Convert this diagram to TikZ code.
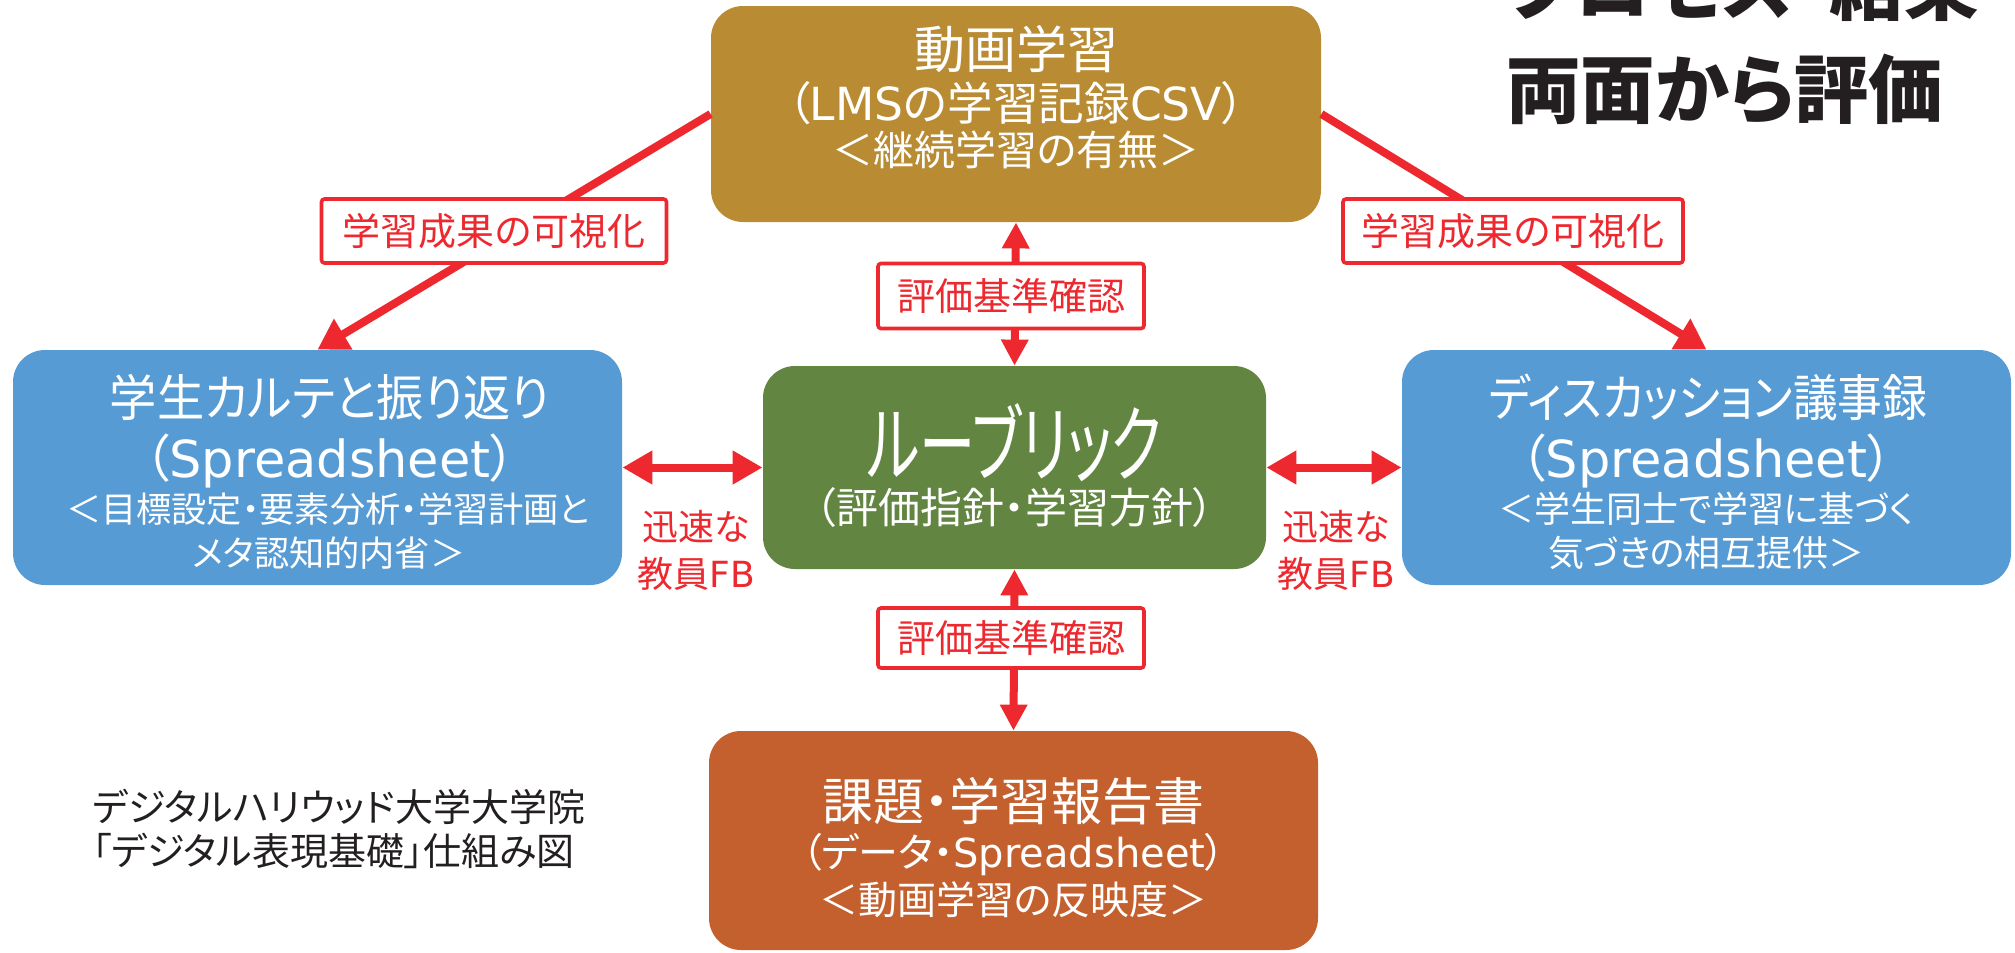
\documentclass[tikz,border=0pt]{standalone}
\usepackage{fontspec}
\setmainfont{Noto Sans CJK JP}[RawFeature={+palt}]
\newfontfamily\lat{DejaVu Sans}
\newfontfamily\rubfont{Noto Sans CJK JP}[RawFeature={+palt},FakeStretch=0.67]
\newfontfamily\condA{Noto Sans CJK JP}[RawFeature={+palt},FakeStretch=0.945]
\newfontfamily\condB{Noto Sans CJK JP}[RawFeature={+palt},FakeStretch=0.895]
\usetikzlibrary{arrows.meta}
\newcommand\fsz[1]{\fontsize{#1}{#1}\selectfont}
\definecolor{gold}{RGB}{185,140,51}
\definecolor{bluebox}{RGB}{86,155,212}
\definecolor{greenbox}{RGB}{98,134,66}
\definecolor{orangebox}{RGB}{195,96,45}
\definecolor{redc}{RGB}{237,40,46}
\definecolor{ink}{RGB}{35,31,32}
\tikzset{
  box/.style={rectangle, rounded corners=16pt, inner sep=0pt, draw=none},
  wt/.style={text=white, inner sep=0pt, anchor=center},
  lab/.style={draw=redc, line width=1.8pt, fill=white, rounded corners=1.5pt, text=redc, inner sep=0pt},
  con/.style={draw=redc, line width=4pt, -{Triangle[length=15pt,width=17pt]}},
  vcon/.style={draw=redc, line width=4pt, {Triangle[length=13pt,width=13pt]}-{Triangle[length=13pt,width=13pt]}},
  hcon/.style={draw=redc, line width=4pt, {Triangle[length=15pt,width=16pt]}-{Triangle[length=15pt,width=16pt]}},
  fbtext/.style={text=redc, align=center, inner sep=0pt, font=\fontsize{18}{23.5}\selectfont},
}
\begin{document}
\begin{tikzpicture}[x=0.5pt,y=-0.5pt]
\useasboundingbox (0,0) rectangle (2015,953);
\clip (0,0) rectangle (2015,953);
\fill[white] (0,0) rectangle (2015,953);

% boxes
\node[box, fill=gold, minimum width=305pt, minimum height=108pt] (video) at (1016,114) {};
\node[box, fill=bluebox, minimum width=304.5pt, minimum height=117.5pt] (karte) at (317.5,467.5) {};
\node[box, fill=greenbox, minimum width=251.5pt, minimum height=101.5pt] (rubric) at (1014.5,467.5) {};
\node[box, fill=bluebox, minimum width=304.5pt, minimum height=117.5pt] (disc) at (1706.5,467.5) {};
\node[box, fill=orangebox, minimum width=304.5pt, minimum height=109.5pt] (report) at (1013.5,840.5) {};

% box texts
\node[wt] (v1) at (1016,49) {\fsz{25.5}動画学習};
\node[wt] (v2) at (1016,103) {\fsz{22.8}（{\lat LMS}の学習記録{\lat CSV}）};
\node[wt] (v3) at (1016,150) {\fsz{20.5}＜継続学習の有無＞};

\node[wt] (k1) at (330,397) {\condA\fsz{25}学生カルテと振り返り};
\node[wt] (k2) at (330,461) {\fsz{25.5}（{\lat Spreadsheet}）};
\node[wt] (k3) at (328,509) {\fsz{17.6}＜目標設定・要素分析・学習計画と};
\node[wt] (k4) at (329,553) {\fsz{17.6}メタ認知的内省＞};

\node[wt] (d1) at (1708,397) {\condB\fsz{25}ディスカッション議事録};
\node[wt] (d2) at (1706.5,461) {\fsz{25.5}（{\lat Spreadsheet}）};
\node[wt] (d3) at (1706.5,509) {\fsz{18}＜学生同士で学習に基づく};
\node[wt] (d4) at (1706.5,553) {\fsz{18}気づきの相互提供＞};

\node[wt] (r1) at (1014.5,443) {\rubfont\fsz{42}ルーブリック};
\node[wt] (r2) at (1014.5,508) {\fsz{21}（評価指針・学習方針）};

\node[wt] (p1) at (1013.5,801) {\fsz{25.5}課題・学習報告書};
\node[wt] (p2) at (1013.5,855) {\fsz{20}（データ・{\lat Spreadsheet}）};
\node[wt] (p3) at (1013.5,900) {\fsz{19.5}＜動画学習の反映度＞};

% connectors
\draw[con] (video.west) -- (karte.north);
\draw[con] (video.east) -- (disc.north);
\draw[vcon] (video.south) -- (rubric.north);
\draw[vcon] (rubric.south) -- (report.north);
\draw[hcon] (karte.east) -- (rubric.west);
\draw[hcon] (rubric.east) -- (disc.west);

% labels
\node[lab, minimum width=172.5pt, minimum height=32pt] (lab1) at (494,231) {\fsz{19}学習成果の可視化};
\node[lab, minimum width=170pt, minimum height=32pt] (lab2) at (1513,231) {\fsz{19}学習成果の可視化};
\node[lab, minimum width=133pt, minimum height=32.5pt] (lab3) at (1011,296) {\fsz{19}評価基準確認};
\node[lab, minimum width=133pt, minimum height=30pt] (lab4) at (1011,638) {\fsz{19}評価基準確認};

\node[fbtext] (fb1) at (696,550) {迅速な\\教員{\lat FB}};
\node[fbtext] (fb2) at (1336,550) {迅速な\\教員{\lat FB}};

% caption
\node[anchor=west, align=left, inner sep=0pt, text=ink, font=\fontsize{19}{22}\selectfont] (cap) at (92,829) {デジタルハリウッド大学大学院\\「デジタル表現基礎」仕組み図};

% title
\node[anchor=west, inner sep=0pt, text=ink, font=\bfseries\fsz{37.2}] (t1) at (1506,-14) {プロセス・結果};
\node[anchor=west, inner sep=0pt, text=ink, font=\bfseries\fsz{37.2}] (t2) at (1506,89) {両面から評価};
\end{tikzpicture}
\end{document}
